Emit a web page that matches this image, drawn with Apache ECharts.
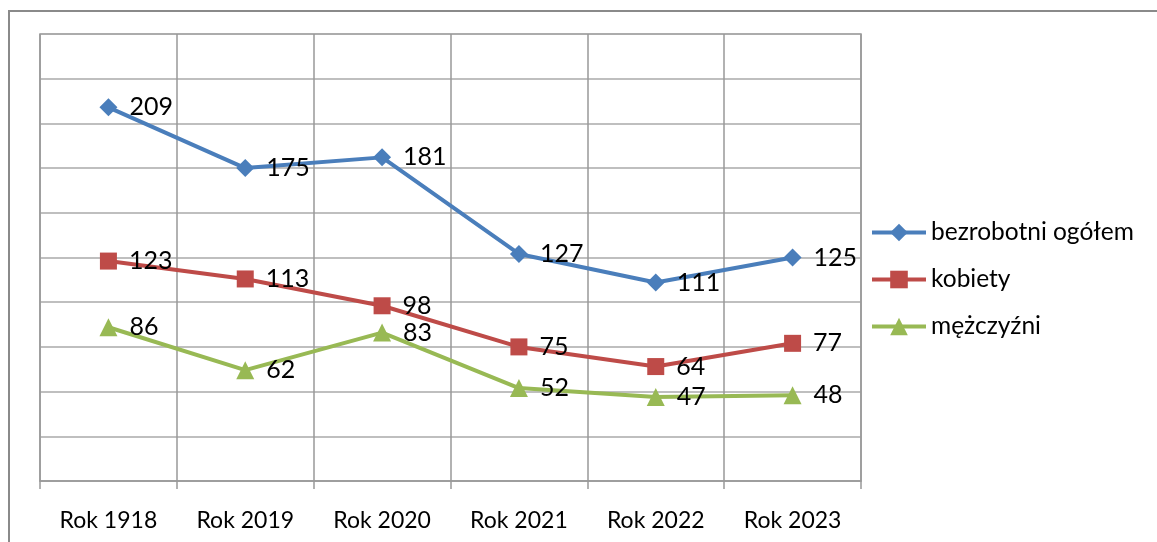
<!DOCTYPE html>
<html>
<head>
<meta charset="utf-8">
<script src="https://cdn.jsdelivr.net/npm/echarts@6/dist/echarts.min.js"></script>
<style>
  html, body { margin: 0; padding: 0; background: #fff; }
  #chart { width: 1157px; height: 542px; }
</style>
</head>
<body>
<div id="chart"></div>
<script>
const categories = ["Rok 1918", "Rok 2019", "Rok 2020", "Rok 2021", "Rok 2022", "Rok 2023"];
const ogolem = [209, 175, 181, 127, 111, 125];
const kobiety = [123, 113, 98, 75, 64, 77];
const mezczyzni = [86, 62, 83, 52, 47, 48];

const font = "Lato";
const chart = echarts.init(document.getElementById("chart"));

function line(name, data, color, symbol, size) {
  return {
    name: name,
    type: "line",
    data: data,
    symbol: symbol,
    symbolSize: size,
    itemStyle: { color: color },
    lineStyle: { color: color, width: 4 },
    label: {
      show: true,
      position: "right",
      distance: 12,
      color: "#000",
      fontFamily: font,
      fontSize: 25
    }
  };
}

chart.setOption({
  animation: false,
  graphic: [{
    type: "rect",
    shape: { x: 9, y: 11, width: 1200, height: 600 },
    style: { fill: "none", stroke: "#8a8a8a", lineWidth: 2 },
    z: -1
  }],
  grid: {
    left: 40, right: 296, top: 34, bottom: 61,
    show: true, borderColor: "#999", borderWidth: 1.5
  },
  legend: {
    orient: "vertical",
    left: 870,
    top: 220,
    padding: 0,
    itemWidth: 54,
    itemHeight: 22,
    itemGap: 22,
    lineStyle: { width: 4 },
    textStyle: { fontFamily: font, fontSize: 24.5, color: "#000" },
    data: ["bezrobotni ogółem", "kobiety", "mężczyźni"]
  },
  xAxis: {
    type: "category",
    data: categories,
    boundaryGap: true,
    axisLine: { lineStyle: { color: "#999", width: 1.5 } },
    axisTick: { show: true, length: 8, lineStyle: { color: "#999", width: 1.5 } },
    axisLabel: { fontFamily: font, fontSize: 23, color: "#000", margin: 28 },
    splitLine: { show: true, lineStyle: { color: "#999", width: 1.5 } }
  },
  yAxis: {
    type: "value",
    min: 0,
    max: 250,
    interval: 25,
    axisLabel: { show: false },
    axisLine: { show: false },
    axisTick: { show: false },
    splitLine: { lineStyle: { color: "#aaa", width: 1.5 } }
  },
  series: [
    line("bezrobotni ogółem", ogolem, "#4a7ebb", "diamond", 18),
    line("kobiety", kobiety, "#be4b48", "rect", 17),
    line("mężczyźni", mezczyzni, "#98b954", "triangle", 18)
  ]
});
</script>
</body>
</html>
